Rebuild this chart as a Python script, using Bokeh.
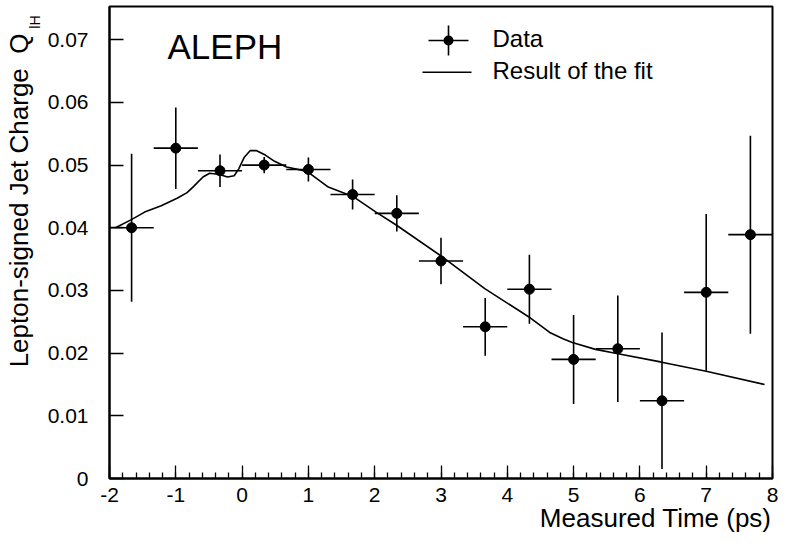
import numpy as np
from bokeh.plotting import figure
from bokeh.models import (Range1d, FixedTicker, Label, BoxAnnotation, Title,
                          ColumnDataSource, CustomJSTickFormatter)
from bokeh.embed import file_html
from bokeh.resources import INLINE

# ---------------- data ----------------
time_ps = [-5/3, -1.0, -1/3, 1/3, 1.0, 5/3, 7/3, 3.0, 11/3, 13/3, 5.0, 17/3, 19/3, 7.0, 23/3]
time_halfwidth = [1/3] * 15
charge = [0.0400, 0.0527, 0.0491, 0.0500, 0.0493, 0.0453, 0.0423, 0.0347,
          0.0242, 0.0302, 0.0190, 0.0207, 0.0124, 0.0297, 0.0389]
charge_err = [0.0118, 0.0065, 0.0026, 0.0013, 0.0019, 0.0024, 0.0029, 0.0037,
              0.0046, 0.0055, 0.0071, 0.0085, 0.0109, 0.0125, 0.0158]

fit_time = [-1.91, -1.67, -1.47, -1.22, -0.98, -0.83, -0.73, -0.59, -0.49, -0.34,
            -0.22, -0.12, -0.05, 0.03, 0.12, 0.22, 0.35, 0.49, 0.67, 0.98,
            1.30, 1.67, 2.02, 2.33, 3.00, 3.66, 4.35, 4.64, 4.84, 4.98, 5.33,
            5.67, 6.31, 7.00, 7.88]
fit_charge = [0.0400, 0.0413, 0.0425, 0.0435, 0.0447, 0.0456, 0.0466, 0.0481, 0.0487, 0.0485,
              0.0481, 0.0483, 0.0494, 0.0512, 0.0523, 0.0523, 0.0516, 0.0506, 0.0497, 0.0490,
              0.0465, 0.0450, 0.0425, 0.0404, 0.0355, 0.0303, 0.0256, 0.0233, 0.0223, 0.0217, 0.0206,
              0.0199, 0.0186, 0.0171, 0.0150]

x_ticks = [-2, -1, 0, 1, 2, 3, 4, 5, 6, 7, 8]
y_ticks = [0, 0.01, 0.02, 0.03, 0.04, 0.05, 0.06, 0.07]

x_title = "Measured Time (ps)"
y_title = "Lepton-signed Jet Charge \u00a0Q"
y_title_sub = "lH"
experiment = "ALEPH"
legend_labels = ["Data", "Result of the fit"]

# ---------------- layout ----------------
W, H = 778, 534
FONT = "Liberation Sans"
F_LEFT, F_RIGHT, F_TOP, F_BOTTOM = 109, 772, 6, 478   # intended frame box (pixels)
Y_MAX = 0.0753

p = figure(width=W, height=H, x_range=Range1d(-2, 8), y_range=Range1d(0, Y_MAX),
           output_backend="svg", toolbar_location=None,
           min_border_left=F_LEFT, min_border_right=W - F_RIGHT, min_border_top=F_TOP,
           min_border_bottom=40)
p.background_fill_color = "white"
p.border_fill_color = "white"
p.outline_line_color = "black"
p.outline_line_width = 2
p.grid.visible = False

for ax in (p.xaxis[0], p.yaxis[0]):
    ax.axis_line_width = 2
    ax.axis_line_color = "black"
    ax.major_tick_out = 0
    ax.minor_tick_out = 0
    ax.major_tick_line_color = "black"
    ax.major_tick_line_width = 1.3
    ax.minor_tick_line_width = 1.3
    ax.major_label_text_font = FONT
    ax.major_label_text_color = "black"
    ax.major_label_text_font_size = "21px"

p.xaxis.ticker = FixedTicker(ticks=x_ticks,
                             minor_ticks=[round(v, 2) for v in np.arange(-2, 8.001, 0.2)])
p.xaxis.major_tick_in = 13
p.xaxis.minor_tick_in = 6
p.xaxis.minor_tick_line_color = "black"
p.xaxis.major_label_standoff = 9
p.xaxis.formatter = CustomJSTickFormatter(code="return tick.toFixed(0);")

p.yaxis.ticker = FixedTicker(ticks=y_ticks)
p.yaxis.major_tick_in = 14
p.yaxis.minor_tick_line_color = None
p.yaxis.major_label_standoff = 21
p.yaxis.formatter = CustomJSTickFormatter(code="return tick == 0 ? '0' : tick.toFixed(2);")

# axis titles as side-panel titles (right aligned like the reference)
p.add_layout(Title(text=y_title_sub, align="right", vertical_align="bottom", offset=9, standoff=2.6,
                   text_font=FONT, text_font_size="14px", text_font_style="normal",
                   text_color="black"), "left")
p.add_layout(Title(text=y_title, align="right", vertical_align="bottom", offset=27, standoff=-21.4,
                   text_font=FONT, text_font_size="26px", text_font_style="normal",
                   text_color="black"), "left")
p.add_layout(Title(text=x_title, align="right", vertical_align="top", offset=1, standoff=-2.4,
                   text_font=FONT, text_font_size="26px", text_font_style="normal",
                   text_color="black"), "below")

# ---------------- marks ----------------
src = ColumnDataSource(dict(
    t=time_ps, q=charge,
    lo=[q - e for q, e in zip(charge, charge_err)],
    hi=[q + e for q, e in zip(charge, charge_err)],
    tl=[t - h for t, h in zip(time_ps, time_halfwidth)],
    th=[t + h for t, h in zip(time_ps, time_halfwidth)],
))
p.line(fit_time, fit_charge, line_color="black", line_width=1.6)
p.segment(x0="tl", y0="q", x1="th", y1="q", source=src, line_color="black", line_width=1.6)
p.segment(x0="t", y0="lo", x1="t", y1="hi", source=src, line_color="black", line_width=1.6)
p.scatter("t", "q", source=src, marker="circle", size=10, fill_color="black", line_color="black")

# ---------------- in-frame texts / legend (pixel layout from the reference) ----------------
PX_X = (F_RIGHT - F_LEFT) / 10.0
PX_Y = (F_BOTTOM - F_TOP) / Y_MAX

def dx(px):
    return -2 + (px - F_LEFT) / PX_X

def dy(py):
    return Y_MAX - (py - F_TOP) / PX_Y

TX, TY = 1.6 / PX_X, 1.6 / PX_Y  # line thickness in data units

p.add_layout(Label(x=dx(167), y=dy(46), text=experiment,
                   text_font=FONT, text_font_size="35px", text_color="black",
                   text_align="left", text_baseline="alphabetic"))

def box(l, r, b, t, **kw):
    return BoxAnnotation(left=l, right=r, bottom=b, top=t, fill_color="black", fill_alpha=1,
                         line_color=None, **kw)

mx, my = dx(448), dy(40)
p.add_layout(box(dx(428), dx(468), my - TY / 2, my + TY / 2))
p.add_layout(box(mx - TX / 2, mx + TX / 2, dy(55), dy(25)))
p.add_layout(box(mx - 5 / PX_X, mx + 5 / PX_X, my - 5 / PX_Y, my + 5 / PX_Y, border_radius=5))
p.add_layout(Label(x=dx(492), y=dy(37.7), text=legend_labels[0],
                   text_font=FONT, text_font_size="24px", text_color="black",
                   text_align="left", text_baseline="alphabetic"))
fy = dy(71.7)
p.add_layout(box(dx(422), dx(471), fy - TY / 2, fy + TY / 2))
p.add_layout(Label(x=dx(492), y=dy(70.3), text=legend_labels[1],
                   text_font=FONT, text_font_size="24px", text_color="black",
                   text_align="left", text_baseline="alphabetic"))

open("out.html", "w").write(file_html(p, INLINE))
